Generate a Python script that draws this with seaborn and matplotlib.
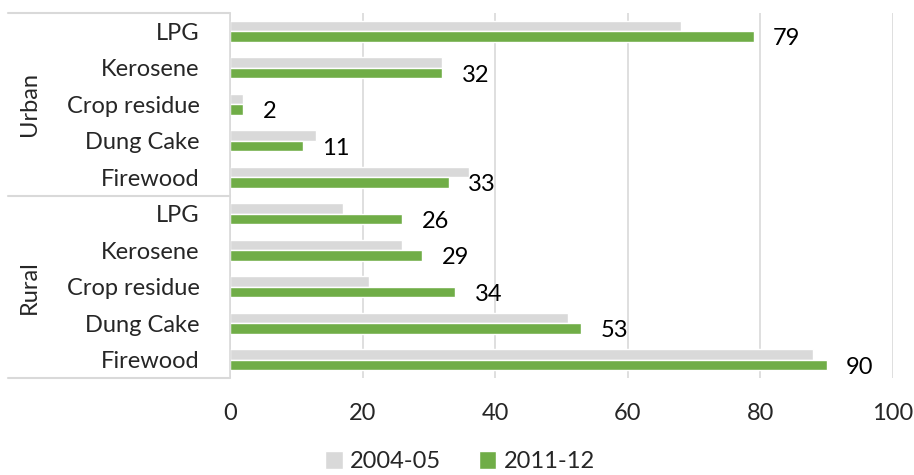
import matplotlib
matplotlib.use("Agg")
import matplotlib.pyplot as plt
import matplotlib.transforms as mtransforms
import pandas as pd
import seaborn as sns

groups = ["Urban"] * 5 + ["Rural"] * 5
fuels = ["LPG", "Kerosene", "Crop residue", "Dung Cake", "Firewood"] * 2
val_2004 = [68, 32, 2, 13, 36, 17, 26, 21, 51, 88]
val_2011 = [79, 32, 2, 11, 33, 26, 29, 34, 53, 90]
years = ["2004-05", "2011-12"]
colors = ["#D9D9D9", "#70AD47"]

keys = [f"{g}|{f}" for g, f in zip(groups, fuels)]
df = pd.DataFrame({
    "key": keys * 2,
    "value": val_2004 + val_2011,
    "year": [years[0]] * 10 + [years[1]] * 10,
})

sns.set_style("white")
plt.rcParams["font.family"] = ["Lato", "DejaVu Sans"]
fs = 17

fig = plt.figure(figsize=(9.14, 4.75), dpi=100)
ax = fig.add_axes([0.2516, 0.204, 0.7254, 0.7686])

sns.barplot(data=df, x="value", y="key", hue="year", order=keys,
            palette=colors, orient="h", width=0.58, ax=ax,
            saturation=1, legend=True)

ax.set_xlim(0, 100)
ax.set_ylim(9.5, -0.5)
ax.set_xticks(range(0, 101, 20))
ax.set_yticks(range(10))
ax.set_yticklabels(fuels)
ax.set_xlabel("")
ax.set_ylabel("")
ax.tick_params(axis="x", length=0, pad=18, labelsize=fs)
ax.tick_params(axis="y", length=0, pad=22, labelsize=fs)
ax.grid(axis="x", color="#D9D9D9", linewidth=1.2)
ax.set_axisbelow(True)
for s in ax.spines.values():
    s.set_visible(False)

# value labels on the 2011-12 bars
for t in ax.bar_label(ax.containers[1], labels=[str(v) for v in val_2011],
                      padding=14, fontsize=fs, color="#000000"):
    t.set_va("center_baseline")

# group separators and labels
trans = mtransforms.blended_transform_factory(ax.transAxes, ax.transData)
for yy in [-0.5, 4.5, 9.5]:
    ax.plot([-0.335, 0], [yy, yy], color="#D9D9D9", linewidth=1.5,
            transform=trans, clip_on=False)
ax.plot([0, 0], [-0.5, 9.5], color="#D9D9D9", linewidth=1.2,
        transform=trans, clip_on=False)
for name, yc in [("Urban", 2.0), ("Rural", 7.0)]:
    ax.text(-0.302, yc, name, rotation=90, ha="center", va="center",
            fontsize=fs, transform=trans)

handles, labels = ax.get_legend_handles_labels()
ax.get_legend().remove()
fig.legend(handles, labels, loc="center", bbox_to_anchor=(0.503, 0.028),
           ncol=2, frameon=False, fontsize=fs, handlelength=0.75,
           handleheight=0.75, handletextpad=0.3, columnspacing=1.6)

fig.savefig("out.png", dpi=100)
